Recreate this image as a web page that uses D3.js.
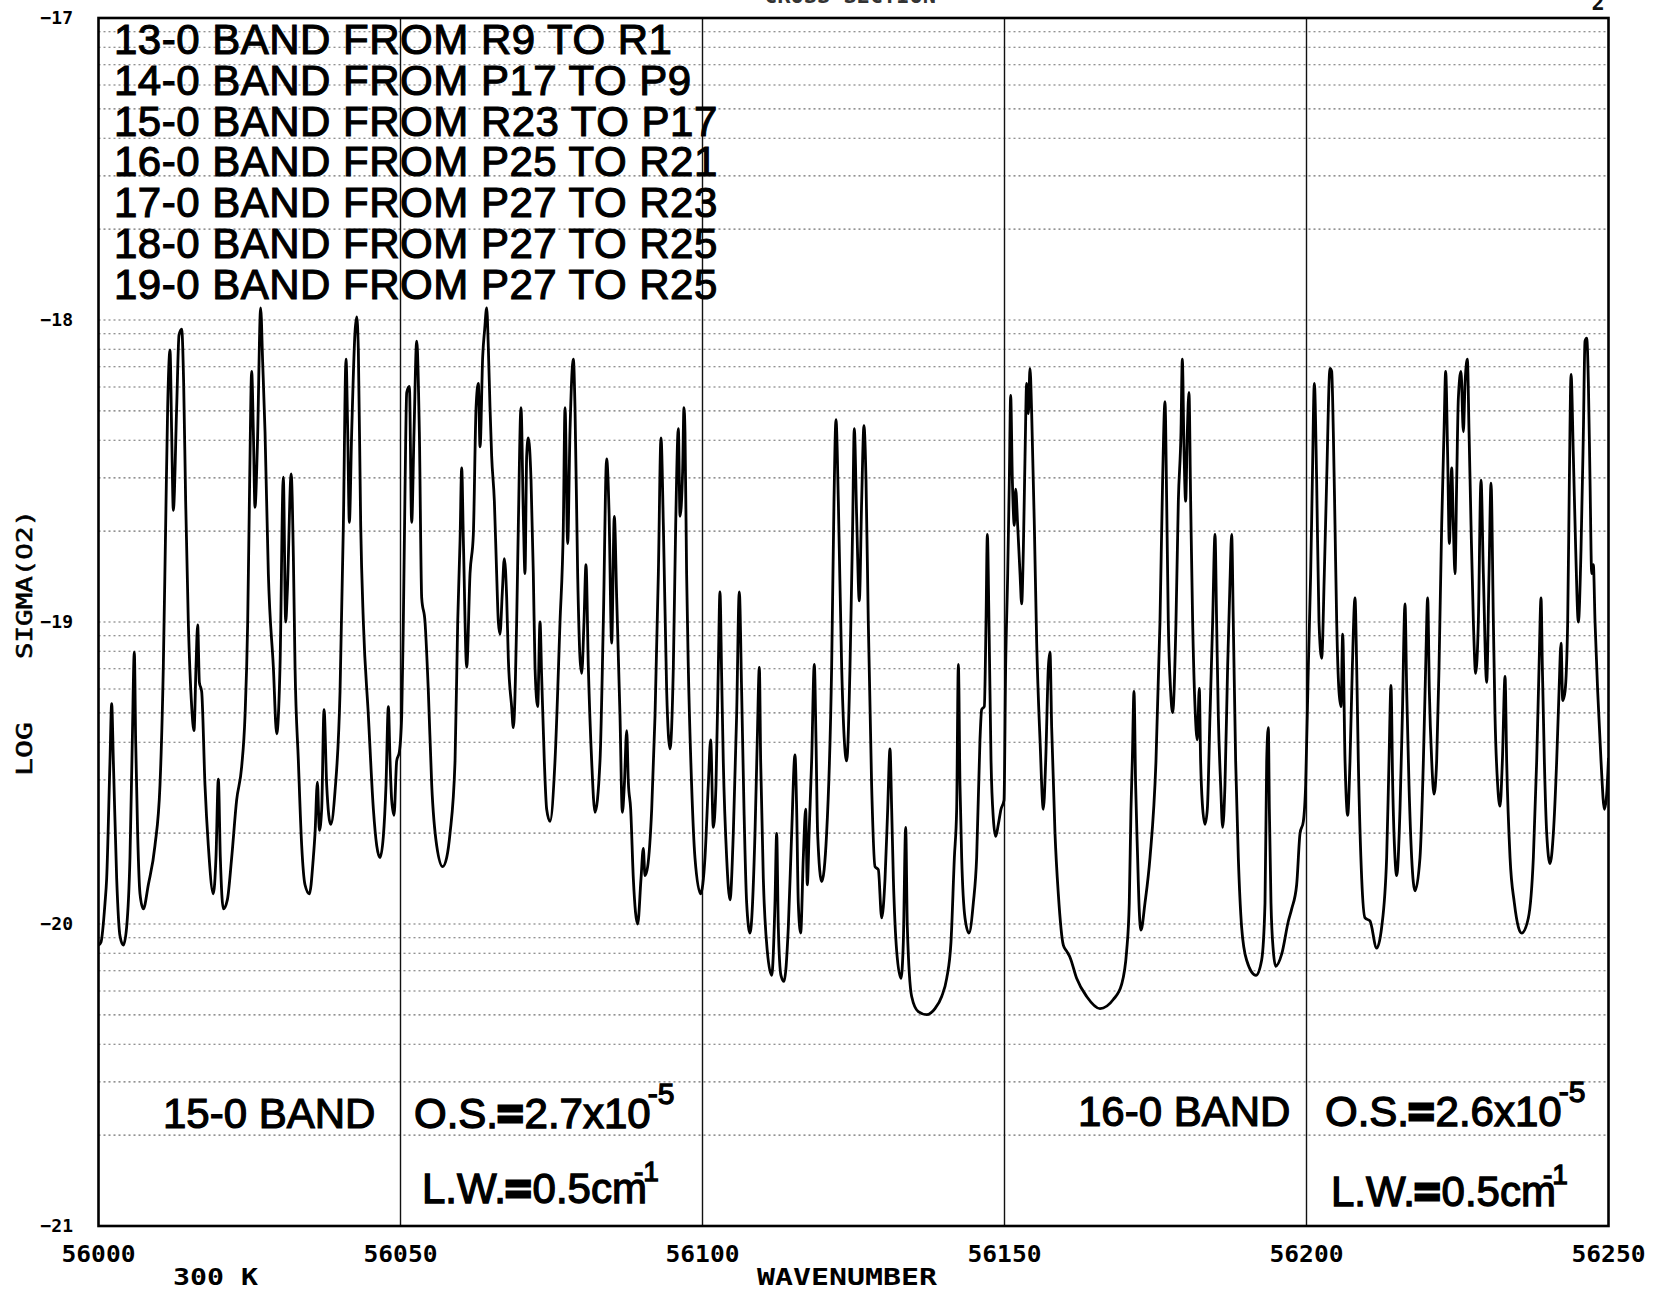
<!DOCTYPE html>
<html><head><meta charset="utf-8">
<script src="https://cdn.jsdelivr.net/npm/d3@7"></script>
<style>html,body{margin:0;padding:0;background:#fff;} svg{display:block}</style>
</head><body><svg id="chart" width="1666" height="1297"></svg>
<script>
// ---------------- DATA ----------------
const wavenumber = [
56000.00,56000.41,56001.08,56001.35,56001.90,56002.18,56002.46,56003.01,56003.56,56004.11,56004.66,56005.21,56005.60,56005.93,56006.15,56006.48,56006.87,56007.42,56008.25,56009.35,56010.18,56010.73,56011.12,56011.45,56011.84,56012.11,56012.39,56012.94,56013.33,56013.77,56014.10,56014.43,56014.87,56015.43,56015.81,56016.14,56016.42,56016.70,56017.08,56017.63,56018.18,56019.01,56019.45,56019.84,56020.17,56020.67,56021.33,56022.05,56022.87,56023.70,56024.26,56024.70,56025.03,56025.36,56025.64,56025.91,56026.30,56026.85,56027.18,56027.57,56028.12,56028.95,56029.50,56030.05,56030.60,56030.99,56031.26,56031.90,
56032.26,56032.54,56033.09,56033.64,56034.19,56034.91,56035.57,56035.85,56036.24,56036.57,56036.95,56037.34,56037.78,56038.44,56039.16,56039.99,56040.54,56040.98,56041.26,56041.53,56041.92,56042.47,56042.75,56043.02,56043.41,56043.85,56044.68,56045.51,56046.06,56046.61,56047.16,56047.60,56047.99,56048.27,56048.54,56048.93,56049.37,56049.81,56050.20,56050.47,56050.75,56051.03,56051.47,56051.85,56052.24,56052.68,56053.12,56053.51,56054.06,56054.61,56055.17,56055.99,56056.99,56057.65,56058.20,56059.03,56059.47,56059.86,56060.13,56060.41,56060.96,56061.51,56062.06,56062.51,56062.89,56063.17,56063.61,56063.94,56064.27,
56064.54,56064.82,56065.09,56065.54,56065.92,56066.20,56066.47,56066.86,56067.19,56067.58,56067.85,56068.40,56068.68,56069.23,56069.51,56069.95,56070.34,56070.61,56070.89,56071.16,56071.61,56071.99,56072.27,56072.71,56073.10,56073.37,56073.81,56074.20,56074.75,56075.58,56076.41,56076.96,56077.24,56077.68,56078.06,56078.62,56078.89,56079.33,56079.72,56080.00,56080.38,56080.71,56081.10,56081.65,56082.20,56083.03,56083.58,56084.13,56084.52,56084.96,56085.40,56085.79,56086.34,56086.73,56087.06,56087.45,56087.72,56088.11,56088.55,56089.27,56089.82,56090.20,56090.48,56090.92,56091.59,56092.14,56092.69,56093.13,56093.52,56094.07,56094.62,56095.17,56095.56,56096.00,56096.28,
56096.71,56096.93,56097.10,56097.37,56097.65,56098.20,56098.75,56099.69,56100.41,56100.96,56101.35,56101.79,56102.23,56102.62,56102.89,56103.17,56103.44,56104.00,56104.55,56105.10,56105.65,56106.09,56106.48,56106.87,56107.31,56107.86,56108.69,56109.07,56109.41,56109.63,56110.07,56110.73,56111.45,56112.00,56112.28,56112.55,56112.99,56113.49,56114.21,56114.76,56115.31,56115.59,56115.86,56116.25,56116.69,56117.08,56117.35,56117.68,56118.07,56118.51,56118.79,56119.06,56119.73,56120.55,56121.38,56121.77,56122.10,56122.49,56123.04,56123.87,56124.42,56124.86,56125.13,56125.52,56125.96,56126.35,56126.73,56127.07,56127.45,56128.00,56128.56,
56129.11,56129.66,56130.22,56130.66,56131.04,56131.32,56131.60,56132.15,56132.86,56133.25,56133.64,56133.91,56134.63,56135.73,56137.11,56138.49,56139.60,56140.43,56141.14,56141.70,56142.08,56142.36,56142.63,56142.91,56143.46,56144.12,56144.84,56145.39,56145.94,56146.22,56146.66,56146.94,56147.16,56147.43,56147.77,56148.15,56148.54,56148.98,56149.42,56149.92,56150.19,56150.53,56150.80,56151.02,56151.30,56151.63,56151.85,56152.18,56152.57,56152.84,56153.12,56153.40,56153.67,56153.95,56154.22,56154.50,56154.94,56155.33,56155.88,56156.43,56156.82,56157.26,56157.53,56157.81,56158.36,56158.91,56159.74,56160.29,
56160.84,56161.94,56163.60,56165.81,56168.01,56169.39,56170.22,56170.66,56170.94,56171.16,56171.44,56171.71,56172.04,56172.32,56172.60,56173.26,56174.09,56175.08,56175.74,56176.18,56176.57,56176.85,56177.12,56177.51,56177.84,56178.39,56178.78,56179.22,56179.44,56179.71,56179.99,56180.27,56180.54,56180.82,56181.15,56181.54,56181.92,56182.25,56182.47,56182.75,56183.19,56183.58,56184.02,56184.46,56184.85,56185.12,56185.40,56185.79,56186.12,56186.50,56186.94,56187.33,56187.61,56187.88,56188.27,56188.71,56189.26,56190.09,56191.64,56192.57,56193.13,
56193.41,56193.68,56193.85,56194.12,56194.51,56194.90,56195.89,56197.00,56197.55,56198.37,56198.93,56199.48,56199.86,56200.30,56200.69,56200.97,56201.30,56201.68,56202.07,56202.51,56202.95,56203.34,56203.89,56204.17,56204.44,56204.72,56205.00,56205.38,56205.71,56205.99,56206.38,56206.82,56207.20,56207.59,56208.03,56208.31,56208.58,56209.14,56209.69,56210.51,56211.62,56212.45,56213.27,56213.66,56213.99,56214.27,56214.65,56214.93,56215.48,56215.87,56216.31,56216.59,56216.97,56217.41,56217.97,56218.79,56219.35,56219.73,56220.06,56220.34,56220.73,56221.11,56221.55,56221.94,56222.38,56222.77,56223.04,56223.37,56223.65,56224.04,56224.31,56224.59,
56224.87,56225.14,56225.58,56225.97,56226.25,56226.63,56226.91,56227.24,56227.63,56228.01,56228.45,56228.89,56229.28,56229.83,56230.22,56230.55,56230.94,56231.21,56231.65,56232.04,56232.43,56232.87,56233.14,56233.70,56234.41,56235.08,56235.63,56236.73,56237.56,56238.11,56238.50,56238.83,56239.05,56239.38,56239.77,56240.32,56240.87,56241.42,56241.81,56242.14,56242.42,56242.80,56243.24,56243.52,56243.80,56244.18,56244.57,56245.01,56245.45,56245.84,56246.11,56246.39,56246.67,56246.94,56247.22,56247.49,56247.77,56248.21,56248.76,56249.32,56249.70,56250.00
];
const logSigma = [
-20.07,-20.06,-19.93,-19.85,-19.46,-19.27,-19.46,-19.85,-20.04,-20.07,-20.01,-19.78,-19.39,-19.10,-19.39,-19.70,-19.90,-19.95,-19.87,-19.74,-19.54,-19.15,-18.68,-18.29,-18.10,-18.37,-18.63,-18.29,-18.05,-18.03,-18.21,-18.60,-19.00,-19.28,-19.36,-19.15,-19.01,-19.20,-19.23,-19.54,-19.74,-19.90,-19.78,-19.52,-19.78,-19.95,-19.92,-19.78,-19.59,-19.48,-19.31,-19.00,-18.53,-18.17,-18.37,-18.62,-18.42,-17.96,-18.14,-18.37,-18.84,-19.15,-19.37,-19.15,-18.52,-19.00,-18.90,-18.51,
-18.78,-19.15,-19.46,-19.74,-19.87,-19.90,-19.78,-19.70,-19.53,-19.69,-19.62,-19.29,-19.54,-19.67,-19.56,-19.23,-18.68,-18.13,-18.37,-18.67,-18.37,-18.04,-17.99,-18.10,-18.68,-19.00,-19.31,-19.62,-19.74,-19.78,-19.71,-19.54,-19.28,-19.46,-19.59,-19.64,-19.46,-19.43,-19.31,-19.00,-18.56,-18.24,-18.22,-18.67,-18.37,-18.07,-18.37,-18.92,-19.00,-19.23,-19.54,-19.74,-19.81,-19.78,-19.70,-19.46,-19.00,-18.73,-18.49,-18.73,-19.15,-18.84,-18.71,-18.29,-18.21,-18.42,-18.12,-18.03,-17.96,
-18.09,-18.29,-18.45,-18.60,-18.84,-19.00,-19.04,-18.90,-18.79,-18.92,-19.12,-19.28,-19.35,-19.00,-18.68,-18.29,-18.65,-18.84,-18.45,-18.39,-18.53,-18.84,-19.15,-19.28,-19.00,-19.18,-19.46,-19.62,-19.66,-19.46,-19.00,-18.68,-18.29,-18.74,-18.37,-18.13,-18.29,-18.84,-19.12,-19.17,-19.00,-18.81,-19.15,-19.46,-19.63,-19.46,-19.00,-18.46,-18.63,-19.07,-18.65,-18.92,-19.31,-19.63,-19.54,-19.36,-19.53,-19.62,-19.85,-20.00,-19.85,-19.75,-19.84,-19.81,-19.62,-19.31,-18.84,-18.39,-18.68,-19.23,-19.42,-19.15,-18.68,-18.36,-18.65,
-18.50,-18.29,-18.37,-18.84,-19.15,-19.54,-19.78,-19.90,-19.78,-19.54,-19.39,-19.68,-19.54,-19.15,-18.90,-19.18,-19.46,-19.78,-19.92,-19.70,-19.31,-18.90,-19.23,-19.62,-19.93,-20.03,-19.70,-19.39,-19.15,-19.46,-19.85,-20.09,-20.17,-19.93,-19.70,-20.01,-20.17,-20.19,-20.01,-19.70,-19.44,-19.62,-19.93,-20.03,-19.78,-19.62,-19.87,-19.68,-19.46,-19.14,-19.39,-19.70,-19.86,-19.70,-19.15,-18.60,-18.33,-18.60,-19.15,-19.46,-19.15,-18.68,-18.36,-18.65,-18.93,-18.60,-18.35,-18.53,-19.00,-19.54,-19.81,
-19.82,-19.98,-19.85,-19.62,-19.42,-19.62,-19.85,-20.09,-20.18,-20.06,-19.68,-20.01,-20.24,-20.29,-20.30,-20.28,-20.24,-20.18,-20.06,-19.78,-19.62,-19.14,-19.54,-19.78,-19.98,-20.03,-19.93,-19.78,-19.39,-19.29,-19.28,-19.00,-18.71,-19.00,-19.46,-19.65,-19.71,-19.67,-19.62,-19.59,-19.15,-18.84,-18.53,-18.25,-18.53,-18.68,-18.56,-18.68,-18.84,-18.94,-18.76,-18.45,-18.21,-18.31,-18.16,-18.31,-18.68,-19.07,-19.39,-19.62,-19.46,-19.15,-19.10,-19.35,-19.70,-19.90,-20.07,-20.09,
-20.11,-20.18,-20.24,-20.28,-20.25,-20.20,-20.09,-19.93,-19.62,-19.46,-19.23,-19.54,-19.78,-19.96,-20.02,-19.93,-19.78,-19.46,-19.00,-18.53,-18.27,-18.60,-19.00,-19.23,-19.30,-19.00,-18.60,-18.37,-18.13,-18.42,-18.60,-18.37,-18.24,-18.60,-19.00,-19.28,-19.39,-19.22,-19.46,-19.60,-19.67,-19.62,-19.31,-19.00,-18.71,-19.00,-19.31,-19.54,-19.68,-19.54,-19.15,-18.87,-18.71,-19.00,-19.46,-19.78,-20.01,-20.12,-20.17,-20.12,-19.93,
-19.46,-19.35,-19.62,-19.93,-20.09,-20.14,-20.10,-19.99,-19.95,-19.87,-19.70,-19.66,-19.54,-19.15,-18.84,-18.53,-18.21,-18.53,-19.00,-19.12,-18.84,-18.53,-18.16,-18.17,-18.37,-18.68,-19.00,-19.23,-19.28,-19.04,-19.46,-19.64,-19.46,-19.15,-18.92,-19.15,-19.46,-19.85,-19.98,-19.99,-20.08,-20.01,-19.78,-19.46,-19.21,-19.54,-19.78,-19.84,-19.62,-19.31,-18.94,-19.23,-19.54,-19.78,-19.89,-19.78,-19.46,-19.15,-18.92,-19.23,-19.46,-19.57,-19.46,-19.15,-18.68,-18.37,-18.17,-18.45,-18.74,-18.49,-18.68,-18.84,
-18.53,-18.26,-18.17,-18.37,-18.21,-18.13,-18.37,-18.68,-19.00,-19.17,-19.00,-18.53,-18.84,-19.20,-18.84,-18.54,-19.00,-19.31,-19.54,-19.61,-19.46,-19.18,-19.46,-19.78,-19.93,-20.01,-20.03,-19.98,-19.78,-19.46,-19.15,-18.92,-19.15,-19.46,-19.70,-19.80,-19.70,-19.46,-19.23,-19.07,-19.26,-19.23,-19.00,-18.53,-18.18,-18.45,-18.76,-19.00,-18.76,-18.37,-18.07,-18.06,-18.21,-18.53,-18.84,-18.81,-19.00,-19.23,-19.46,-19.62,-19.57,-19.45
];
const xTicks = [56000, 56050, 56100, 56150, 56200, 56250];
const yTicks = [-17, -18, -19, -20, -21];
const gridDecades = [-21, -20, -19, -18];
const gridMultipliers = [1, 2, 3, 4, 5, 6, 7, 8, 9];
const bandLines = [
  "13-0 BAND FROM R9 TO R1",
  "14-0 BAND FROM P17 TO P9",
  "15-0 BAND FROM R23 TO P17",
  "16-0 BAND FROM P25 TO R21",
  "17-0 BAND FROM P27 TO R23",
  "18-0 BAND FROM P27 TO R25",
  "19-0 BAND FROM P27 TO R25"
];
const bandLabels = ["15-0 BAND", "16-0 BAND"];
const osValues = ["2.7", "2.6"];
const osExponent = "-5";
const lwValue = "0.5";
const xTitle = "WAVENUMBER";
const tempLabel = "300 K";
const yTitleParts = ["LOG", "SIGMA(O2)"];
const headerTitle = "CROSS SECTION";
const pageNumber = "2";

// ---------------- DRAW ----------------
const svg = d3.select('#chart');
const x = d3.scaleLinear().domain([56000, 56250]).range([98.5, 1608.5]);
const y = d3.scaleLinear().domain([-21, -17]).range([1226, 18]);
const mono = "'DejaVu Sans Mono', monospace";
const sans = "'Liberation Sans', Arial, Helvetica, sans-serif";

svg.append('rect').attr('width', 1666).attr('height', 1297).attr('fill', '#fff');

// header cut off at top
svg.append('text').attr('x', 850).attr('y', 3).attr('text-anchor', 'middle')
  .attr('font-family', mono).attr('font-weight', 'bold').attr('font-size', 22)
  .attr('fill', '#333').text(headerTitle);
svg.append('text').attr('x', 1598).attr('y', 10).attr('text-anchor', 'middle')
  .attr('font-family', mono).attr('font-weight', 'bold').attr('font-size', 22)
  .attr('fill', '#111').text(pageNumber);

// minor log grid (dotted)
const gridVals = [];
gridDecades.forEach(d => gridMultipliers.forEach(k => gridVals.push(d + Math.log10(k))));
svg.append('g').selectAll('line').data(gridVals.filter(v => v > -21 && v < -17)).join('line')
  .attr('x1', x(56000)).attr('x2', x(56250))
  .attr('y1', d => y(d)).attr('y2', d => y(d))
  .attr('stroke', '#333').attr('stroke-width', 1.1).attr('stroke-dasharray', '2,3')
  .attr('opacity', 0.7);

// vertical grid lines
svg.append('g').selectAll('line').data(xTicks.slice(1, -1)).join('line')
  .attr('x1', d => x(d)).attr('x2', d => x(d))
  .attr('y1', y(-17)).attr('y2', y(-21))
  .attr('stroke', '#111').attr('stroke-width', 1.4);

// band text lines
svg.append('g').selectAll('text').data(bandLines).join('text')
  .attr('x', 114).attr('y', (d, i) => 54 + i * 40.8)
  .attr('font-family', sans).attr('font-size', 42).attr('letter-spacing', 0.5)
  .attr('fill', '#000').attr('stroke', '#000').attr('stroke-width', 1.1)
  .text(d => d);

// annotation texts
function osText(xPos, yPos, val) {
  const t = svg.append('text').attr('x', xPos).attr('y', yPos)
    .attr('font-family', sans).attr('font-size', 42)
    .attr('fill', '#000').attr('stroke', '#000').attr('stroke-width', 1.3);
  t.append('tspan').text('O.S.');
  t.append('tspan').attr('stroke-width', 5).text('=');
  t.append('tspan').attr('dx', 2).text(val + 'x10');
  t.append('tspan').attr('font-size', 30).attr('dy', -24).attr('dx', -3).text(osExponent);
}
function lwText(xPos, yPos) {
  const t = svg.append('text').attr('x', xPos).attr('y', yPos)
    .attr('font-family', sans).attr('font-size', 42)
    .attr('fill', '#000').attr('stroke', '#000').attr('stroke-width', 1.3);
  t.append('tspan').text('L.W.');
  t.append('tspan').attr('stroke-width', 5).text('=');
  t.append('tspan').attr('dx', 2).text(lwValue + 'cm');
  t.append('tspan').attr('font-size', 28).attr('dy', -22).attr('dx', -13).text('-1');
}
svg.append('text').attr('x', 163).attr('y', 1128)
  .attr('font-family', sans).attr('font-size', 42)
  .attr('fill', '#000').attr('stroke', '#000').attr('stroke-width', 1.2)
  .text(bandLabels[0]);
svg.append('text').attr('x', 1078).attr('y', 1126)
  .attr('font-family', sans).attr('font-size', 42)
  .attr('fill', '#000').attr('stroke', '#000').attr('stroke-width', 1.2)
  .text(bandLabels[1]);
osText(414, 1128, osValues[0]);
osText(1325, 1126, osValues[1]);
lwText(422, 1203);
lwText(1331, 1206);

// spectrum curve
const pts = wavenumber.map((w, i) => [w, logSigma[i]]);
svg.append('defs').append('clipPath').attr('id', 'clip')
  .append('rect').attr('x', x(56000)).attr('y', y(-17))
  .attr('width', x(56250) - x(56000)).attr('height', y(-21) - y(-17));
svg.append('path').datum(pts)
  .attr('clip-path', 'url(#clip)')
  .attr('d', d3.line().x(d => x(d[0])).y(d => y(d[1])).curve(d3.curveMonotoneX))
  .attr('fill', 'none').attr('stroke', '#000').attr('stroke-width', 2.8)
  .attr('stroke-linejoin', 'round');

// frame
svg.append('rect').attr('x', x(56000)).attr('y', y(-17))
  .attr('width', x(56250) - x(56000)).attr('height', y(-21) - y(-17))
  .attr('fill', 'none').attr('stroke', '#000').attr('stroke-width', 2.6);

// y tick labels
svg.append('g').selectAll('text').data(yTicks).join('text')
  .attr('x', 73).attr('y', d => y(d) + 6).attr('text-anchor', 'end')
  .attr('font-family', mono).attr('font-weight', 'bold').attr('font-size', 18)
  .attr('fill', '#000').text(d => d3.format('d')(d));

// x tick labels
svg.append('g').selectAll('text').data(xTicks).join('text')
  .attr('x', d => x(d)).attr('y', 1262).attr('text-anchor', 'middle')
  .attr('font-family', mono).attr('font-weight', 'bold').attr('font-size', 23)
  .attr('textLength', 74).attr('lengthAdjust', 'spacingAndGlyphs')
  .attr('fill', '#000').text(d => d);

// bottom labels
svg.append('text').attr('x', 173).attr('y', 1285)
  .attr('font-family', mono).attr('font-weight', 'bold').attr('font-size', 23)
  .attr('textLength', 85).attr('lengthAdjust', 'spacingAndGlyphs')
  .attr('fill', '#000').text(tempLabel);
svg.append('text').attr('x', 757).attr('y', 1285)
  .attr('font-family', mono).attr('font-weight', 'bold').attr('font-size', 23)
  .attr('textLength', 180).attr('lengthAdjust', 'spacingAndGlyphs')
  .attr('fill', '#000').text(xTitle);

// y axis title (rotated)
svg.append('text').attr('transform', 'translate(32,776) rotate(-90)')
  .attr('font-family', mono).attr('font-size', 22)
  .attr('textLength', 54).attr('lengthAdjust', 'spacingAndGlyphs')
  .attr('fill', '#000').attr('stroke', '#000').attr('stroke-width', 0.6).text(yTitleParts[0]);
svg.append('text').attr('transform', 'translate(32,659) rotate(-90)')
  .attr('font-family', mono).attr('font-size', 22)
  .attr('textLength', 149).attr('lengthAdjust', 'spacingAndGlyphs')
  .attr('fill', '#000').attr('stroke', '#000').attr('stroke-width', 0.6).text(yTitleParts[1]);
</script>
</body></html>
